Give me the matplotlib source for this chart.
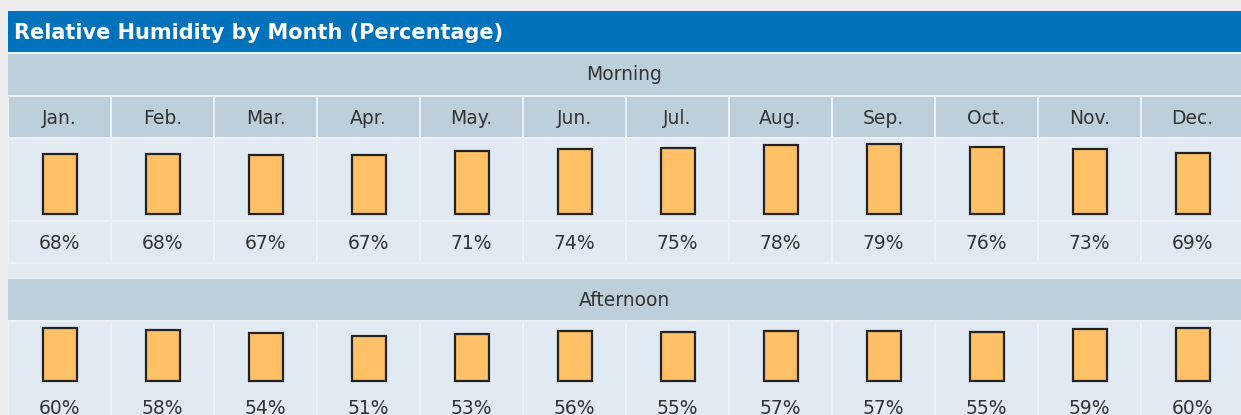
import matplotlib.pyplot as plt
from matplotlib.patches import Rectangle

months = ['Jan.', 'Feb.', 'Mar.', 'Apr.', 'May.', 'Jun.',
          'Jul.', 'Aug.', 'Sep.', 'Oct.', 'Nov.', 'Dec.']
morning = [68, 68, 67, 67, 71, 74, 75, 78, 79, 76, 73, 69]
afternoon = [60, 58, 54, 51, 53, 56, 55, 57, 57, 55, 59, 60]
title = 'Relative Humidity by Month (Percentage)'

# --- layout (pixels) ---
W, H = 1241, 415
left, col_w = 8, 103
px_per_pct = 0.885
bar_w = 34

blue = '#0071bb'
head_bg = '#bccfda'
cell_bg = '#e1e9f2'
gap_c = '#edf1f6'
bar_c = '#ffc066'
txt_c = '#333333'

fig = plt.figure(figsize=(W / 100, H / 100), dpi=100)
fig.patch.set_facecolor('#eeeeee')
ax = fig.add_axes([0, 0, 1, 1])
ax.set_xlim(0, W)
ax.set_ylim(H, 0)
ax.axis('off')


def box(x, y, w, h, color):
    ax.add_patch(Rectangle((x, y), w, h, facecolor=color, edgecolor='none', zorder=1))


# table background (gap colour shows through as grid lines)
box(left, 52, W - left, H - 52, gap_c)
box(left, 11, W - left, 41, blue)
ax.text(left + 6, 33, title, color='white', fontsize=15, fontweight='bold',
        va='center', ha='left', zorder=3)

centers = [left + col_w * i + col_w / 2 for i in range(len(months))]
fs = 13.5


def section(label, y_head, y_bars, bar_base, y_vals, y_end, values, months_row=None):
    box(left, y_head, W - left, 41, head_bg)
    ax.text((left + W) / 2, y_head + 21, label, color=txt_c, fontsize=fs,
            ha='center', va='center', zorder=3)
    for i, cx in enumerate(centers):
        x0 = left + col_w * i + 1
        if months_row is not None:
            box(x0, months_row, col_w - 2, 40, head_bg)
            ax.text(cx, months_row + 21, months[i], color=txt_c, fontsize=fs,
                    ha='center', va='center', zorder=3)
        box(x0, y_bars, col_w - 2, bar_base + 6 - y_bars, cell_bg)
        box(x0, y_vals, col_w - 2, y_end - y_vals, cell_bg)
        ax.text(cx, y_vals + 21, f'{values[i]}%',
                color=txt_c, fontsize=fs, ha='center', va='center', zorder=3)
    heights = [-v * px_per_pct for v in values]
    ax.bar(centers, heights, bottom=bar_base, width=bar_w, color=bar_c,
           edgecolor='#222222', linewidth=1.6, zorder=2)


section('Morning', 54, 139, 214, 222, 262, morning, months_row=97)
box(left, 264, W - left, 14, cell_bg)
section('Afternoon', 279, 322, 381, 387, H + 5, afternoon)

fig.savefig('out.png', dpi=100, facecolor=fig.get_facecolor())
